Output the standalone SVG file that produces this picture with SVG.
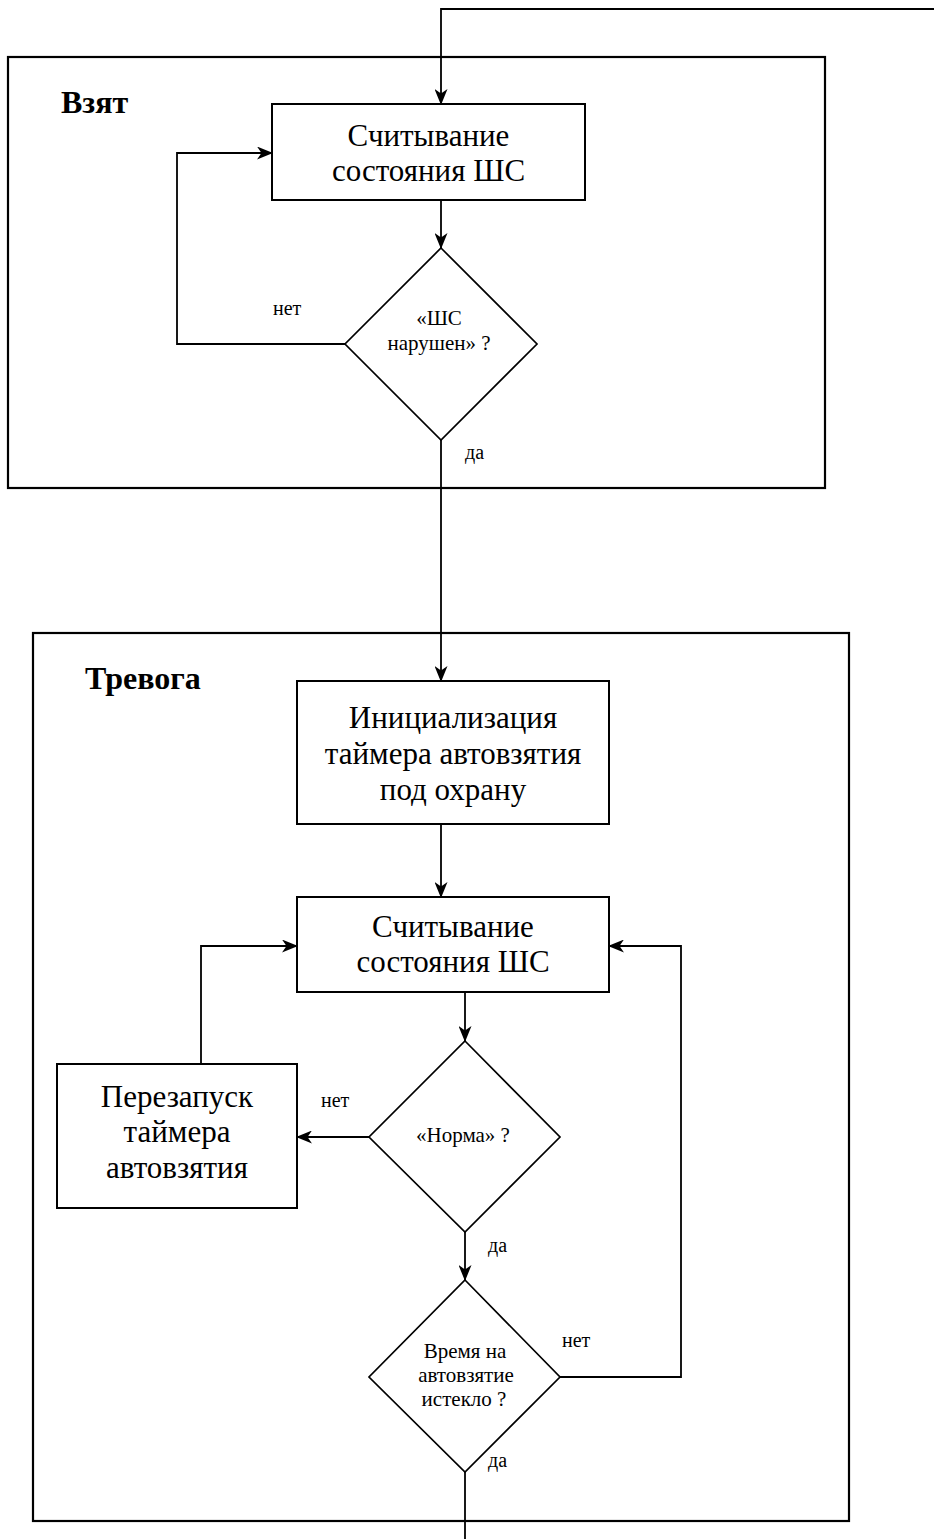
<svg xmlns="http://www.w3.org/2000/svg" width="934" height="1539" viewBox="0 0 934 1539">
<style>
text{font-family:"Liberation Serif","Times New Roman",serif;fill:#000}
.frame{fill:none;stroke:#000;stroke-width:2.2}
.box{fill:#fff;stroke:#000;stroke-width:2}
.dia{fill:#fff;stroke:#000;stroke-width:1.7}
.big{font-size:31px;text-anchor:middle}
.mid{font-size:21px;text-anchor:middle}
.lbl{font-size:20px}
.title{font-size:32px;font-weight:bold}
.conn{fill:none;stroke:#000;stroke-width:1.8}
</style>
<defs>
<marker id="arr" markerUnits="userSpaceOnUse" viewBox="0 0 16 13" markerWidth="16" markerHeight="13" refX="15" refY="6.5" orient="auto">
<path d="M0,0 L16,6.5 L0,13 L4.5,6.5 Z" fill="#000"/>
</marker>
</defs>
<rect fill="#fff" x="0" y="0" width="934" height="1539"/>
<g id="frame-vzyat">
<rect class="frame" x="8" y="57" width="817" height="431"/>
<text class="title" x="61" y="113">Взят</text>
</g>
<g id="frame-trevoga">
<rect class="frame" x="33" y="633" width="816" height="888"/>
<text class="title" x="85" y="689">Тревога</text>
</g>
<g id="connectors">
<path class="conn" d="M934,9 H441 V104" marker-end="url(#arr)"/>
<path class="conn" d="M441,200 V248" marker-end="url(#arr)"/>
<path class="conn" d="M345,344 H177 V153 H272" marker-end="url(#arr)"/>
<path class="conn" d="M441,440 V681" marker-end="url(#arr)"/>
<path class="conn" d="M441,824 V897" marker-end="url(#arr)"/>
<path class="conn" d="M465,992 V1041" marker-end="url(#arr)"/>
<path class="conn" d="M369,1137 H297" marker-end="url(#arr)"/>
<path class="conn" d="M201,1064 V946 H297" marker-end="url(#arr)"/>
<path class="conn" d="M465,1232 V1280" marker-end="url(#arr)"/>
<path class="conn" d="M560,1377 H681 V946 H609" marker-end="url(#arr)"/>
<path class="conn" d="M465,1472 V1539"/>
<text class="lbl" x="273" y="315">нет</text>
<text class="lbl" x="465" y="459">да</text>
<text class="lbl" x="321" y="1107">нет</text>
<text class="lbl" x="488" y="1252">да</text>
<text class="lbl" x="562" y="1347">нет</text>
<text class="lbl" x="488" y="1467">да</text>
</g>
<g id="read1">
<rect class="box" x="272" y="104" width="313" height="96"/>
<text class="big" x="428.5" y="146">Считывание</text>
<text class="big" x="428.5" y="181">состояния ШС</text>
</g>
<g id="dec1">
<polygon class="dia" points="441,248 537,344 441,440 345,344"/>
<text class="mid" x="439" y="325">«ШС</text>
<text class="mid" x="439" y="350">нарушен» ?</text>
</g>
<g id="init">
<rect class="box" x="297" y="681" width="312" height="143"/>
<text class="big" x="453" y="728">Инициализация</text>
<text class="big" x="453" y="764">таймера автовзятия</text>
<text class="big" x="453" y="800">под охрану</text>
</g>
<g id="read2">
<rect class="box" x="297" y="897" width="312" height="95"/>
<text class="big" x="453" y="937">Считывание</text>
<text class="big" x="453" y="972">состояния ШС</text>
</g>
<g id="dec2">
<polygon class="dia" points="465,1041 560,1137 465,1232 369,1137"/>
<text class="mid" x="463" y="1142">«Норма» ?</text>
</g>
<g id="restart">
<rect class="box" x="57" y="1064" width="240" height="144"/>
<text class="big" x="177" y="1107">Перезапуск</text>
<text class="big" x="177" y="1142">таймера</text>
<text class="big" x="177" y="1178">автовзятия</text>
</g>
<g id="dec3">
<polygon class="dia" points="465,1280 560,1377 465,1472 369,1377"/>
<text class="mid" x="465" y="1358">Время на</text>
<text class="mid" x="466" y="1382">автовзятие</text>
<text class="mid" x="464" y="1406">истекло ?</text>
</g>
</svg>
